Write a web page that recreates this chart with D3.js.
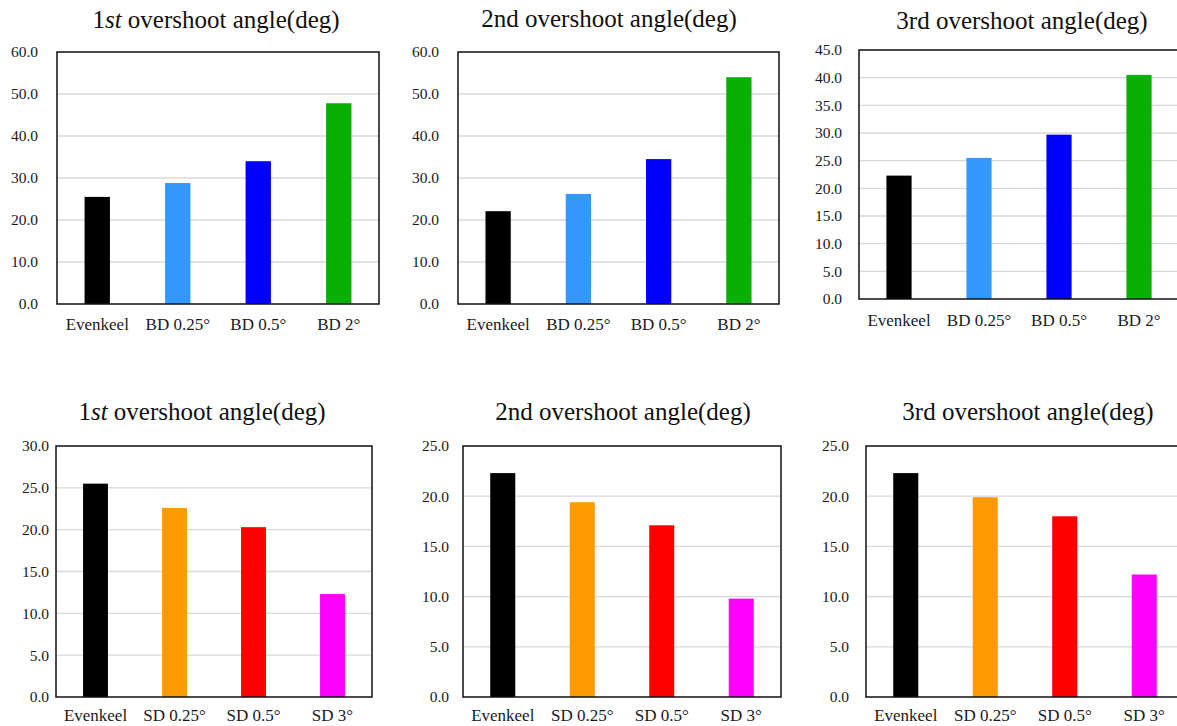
<!DOCTYPE html>
<html>
<head>
<meta charset="utf-8">
<script src="https://cdn.jsdelivr.net/npm/d3@7"></script>
<style>
  html, body { margin: 0; padding: 0; background: #ffffff; overflow: hidden; }
  svg { display: block; }
</style>
</head>
<body>
<svg id="chart" width="1177" height="726"></svg>
<script>
// Categories
const bowCategories = ["Evenkeel", "BD 0.25°", "BD 0.5°", "BD 2°"];
const sternCategories = ["Evenkeel", "SD 0.25°", "SD 0.5°", "SD 3°"];

// Overshoot angles (deg), bow-down trim cases
const bowFirst = [25.5, 28.8, 34.0, 47.8];
const bowSecond = [22.1, 26.2, 34.5, 54.0];
const bowThird = [22.3, 25.5, 29.7, 40.5];

// Overshoot angles (deg), stern-down trim cases
const sternFirst = [25.5, 22.6, 20.3, 12.3];
const sternSecond = [22.3, 19.4, 17.1, 9.8];
const sternThird = [22.3, 19.9, 18.0, 12.2];

// Bar colours
const bowColors = ["#000000", "#3399FF", "#0000FF", "#08B000"];
const sternColors = ["#000000", "#FF9900", "#FF0000", "#FF00FF"];

// Y-axis tick values
const ticks0to60 = [0, 10, 20, 30, 40, 50, 60];
const ticks0to45 = [0, 5, 10, 15, 20, 25, 30, 35, 40, 45];
const ticks0to30 = [0, 5, 10, 15, 20, 25, 30];
const ticks0to25 = [0, 5, 10, 15, 20, 25];

// Titles: ordinal number, italic suffix, upright suffix
const titleOrdinals = [
  { num: "1", italic: "st", plain: "" },
  { num: "2", italic: "", plain: "nd" },
  { num: "3", italic: "", plain: "rd" }
];
const titleRest = " overshoot angle(deg)";

const panels = [
  { cats: bowCategories, vals: bowFirst, colors: bowColors, ticks: ticks0to60, title: 0,
    x0: 57, x1: 379, y0: 52, y1: 304, tx: 216, ty: 28, gap: 19, xpad: 14 },
  { cats: bowCategories, vals: bowSecond, colors: bowColors, ticks: ticks0to60, title: 1,
    x0: 458, x1: 779, y0: 52, y1: 304, tx: 609, ty: 27, gap: 19, xpad: 14 },
  { cats: bowCategories, vals: bowThird, colors: bowColors, ticks: ticks0to45, title: 2,
    x0: 859, x1: 1179, y0: 50, y1: 299, tx: 1022, ty: 29, gap: 17, xpad: 15 },
  { cats: sternCategories, vals: sternFirst, colors: sternColors, ticks: ticks0to30, title: 0,
    x0: 56, x1: 372, y0: 446, y1: 697, tx: 202, ty: 420, gap: 7, xpad: 12 },
  { cats: sternCategories, vals: sternSecond, colors: sternColors, ticks: ticks0to25, title: 1,
    x0: 463, x1: 781, y0: 446, y1: 697, tx: 623, ty: 420, gap: 14, xpad: 12 },
  { cats: sternCategories, vals: sternThird, colors: sternColors, ticks: ticks0to25, title: 2,
    x0: 866, x1: 1184, y0: 446, y1: 697, tx: 1028, ty: 420, gap: 17, xpad: 12 }
];

const svg = d3.select("#chart");
const serif = "'Liberation Serif', 'Times New Roman', serif";

panels.forEach(p => {
  const g = svg.append("g");

  const x = d3.scaleBand()
    .domain(p.cats)
    .range([p.x0, p.x1])
    .paddingInner(0.685)
    .paddingOuter(0.3425);

  const y = d3.scaleLinear()
    .domain([0, d3.max(p.ticks)])
    .range([p.y1, p.y0]);

  // Horizontal gridlines
  g.append("g")
    .selectAll("line")
    .data(p.ticks.filter(t => t > 0 && t < d3.max(p.ticks)))
    .join("line")
    .attr("x1", p.x0)
    .attr("x2", p.x1)
    .attr("y1", d => y(d))
    .attr("y2", d => y(d))
    .attr("stroke", "#D9D9D9")
    .attr("stroke-width", 1.3);

  // Bars
  g.append("g")
    .selectAll("rect")
    .data(p.vals)
    .join("rect")
    .attr("x", (d, i) => x(p.cats[i]))
    .attr("width", x.bandwidth())
    .attr("y", d => y(d))
    .attr("height", d => y(0) - y(d))
    .attr("fill", (d, i) => p.colors[i]);

  // Plot frame
  g.append("rect")
    .attr("x", p.x0)
    .attr("y", p.y0)
    .attr("width", p.x1 - p.x0)
    .attr("height", p.y1 - p.y0)
    .attr("fill", "none")
    .attr("stroke", "#111")
    .attr("stroke-width", 1.5);

  // Y axis labels
  const yAxis = d3.axisLeft(y)
    .tickValues(p.ticks)
    .tickFormat(d3.format(".1f"))
    .tickSize(0)
    .tickPadding(p.gap);
  const ya = g.append("g")
    .attr("transform", `translate(${p.x0},0)`)
    .call(yAxis);
  ya.select(".domain").remove();
  ya.attr("font-family", null).attr("font-size", null);
  ya.selectAll("text")
    .style("font-family", serif)
    .style("font-size", "15.5px")
    .attr("fill", "#1a1a1a");

  // X axis category labels
  const xAxis = d3.axisBottom(x).tickSize(0).tickPadding(p.xpad);
  const xa = g.append("g")
    .attr("transform", `translate(0,${p.y1})`)
    .call(xAxis);
  xa.select(".domain").remove();
  xa.attr("font-family", null).attr("font-size", null);
  xa.selectAll("text")
    .style("font-family", serif)
    .style("font-size", "17px")
    .attr("fill", "#1a1a1a");

  // Title
  const t = titleOrdinals[p.title];
  const title = g.append("text")
    .attr("x", p.tx)
    .attr("y", p.ty)
    .attr("text-anchor", "middle")
    .style("font-family", serif)
    .style("font-size", "25px")
    .attr("fill", "#111");
  title.append("tspan").text(t.num);
  if (t.italic) title.append("tspan").attr("font-style", "italic").text(t.italic);
  title.append("tspan").text(t.plain + titleRest);
});
</script>
</body>
</html>
